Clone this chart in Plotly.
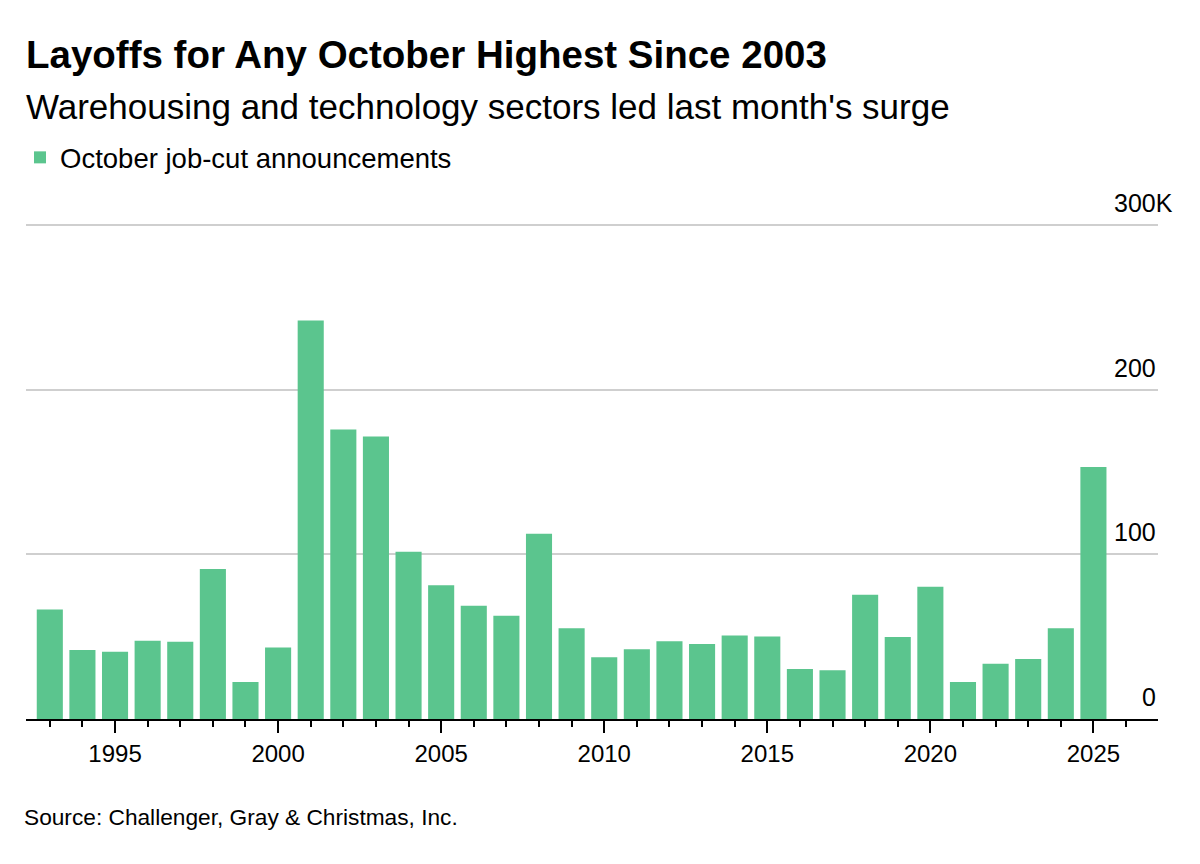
import plotly.graph_objects as go

years = list(range(1993, 2026))
job_cuts_k = [66.5, 42.0, 40.9, 47.6, 47.0, 91.2, 22.5, 43.4, 242.2, 175.9,
              171.7, 101.7, 81.2, 68.8, 62.7, 112.6, 55.2, 37.5, 42.4, 47.2,
              45.5, 50.8, 50.1, 30.4, 29.6, 75.5, 49.9, 80.3, 22.5, 33.6,
              36.5, 55.2, 153.1]
y_ticks = [0, 100, 200, 300]
y_tick_labels = ["0", "100", "200", "300K"]

title = "Layoffs for Any October Highest Since 2003"
subtitle = "Warehousing and technology sectors led last month's surge"
series_name = "October job-cut announcements"
source = "Source: Challenger, Gray & Christmas, Inc."

GREEN = "#5bc58e"
FONT = "Liberation Sans"

fig = go.Figure()
fig.add_trace(go.Bar(x=years, y=job_cuts_k, name=series_name,
                     marker=dict(color=GREEN, line=dict(width=0)),
                     showlegend=True))

# the page body adds an 8px offset; positions below are in screen pixels
OFF = 8
W, H = 1200, 864
plot_left, plot_right = 21, 1158
y_top_val = 302
px_per_unit = 1.643
base_y = 718.6
top_y = base_y - y_top_val * px_per_unit
ml = plot_left - OFF
mr = W - (plot_right - OFF)
mt = top_y - OFF
mb = H - (base_y - OFF)
ph = H - mt - mb
pw = W - ml - mr

def py(abs_y):
    return 1 + (top_y - abs_y) / ph

def px(abs_x):
    return (abs_x - plot_left) / pw

annotations = [
    dict(text="<b>" + title + "</b>", x=px(19), y=py(55), xref="paper", yref="paper",
         xanchor="left", yanchor="middle", showarrow=False,
         font=dict(family=FONT, size=38.5, color="#000000")),
    dict(text=subtitle, x=px(19), y=py(107), xref="paper", yref="paper",
         xanchor="left", yanchor="middle", showarrow=False,
         font=dict(family=FONT, size=35, color="#000000")),
    dict(text=source, x=px(17), y=py(816), xref="paper", yref="paper",
         xanchor="left", yanchor="middle", showarrow=False,
         font=dict(family=FONT, size=22.7, color="#000000")),
]
for v, lab in zip(y_ticks, y_tick_labels):
    annotations.append(dict(text=lab, x=1, y=v, xref="paper", yref="y",
                            xanchor="right", yanchor="bottom", showarrow=False,
                            yshift=6, xshift=17 if lab.endswith("K") else 0,
                            font=dict(family=FONT, size=25, color="#000000")))

fig.update_layout(
    width=W, height=H,
    margin=dict(l=ml, r=mr, t=mt, b=mb, pad=0),
    paper_bgcolor="white", plot_bgcolor="white",
    bargap=0.2,
    font=dict(family=FONT, color="#000000"),
    showlegend=True,
    legend=dict(orientation="h", x=px(15), y=py(158), xanchor="left",
                yanchor="middle", font=dict(family=FONT, size=27.5),
                bgcolor="rgba(0,0,0,0)"),
    annotations=annotations,
    xaxis=dict(range=[1992.27, 2026.98], tickmode="linear", tick0=1995, dtick=5,
               ticks="outside", ticklen=12, tickwidth=2, tickcolor="#000000",
               showline=True, linecolor="#000000", linewidth=2,
               showgrid=False, zeroline=False,
               tickfont=dict(family=FONT, size=24, color="#000000"),
               minor=dict(dtick=1, tick0=1993, ticks="outside", ticklen=6,
                          tickwidth=1.5, tickcolor="#000000", showgrid=False)),
    yaxis=dict(range=[0, y_top_val], tickvals=y_ticks, showticklabels=False,
               showgrid=True, gridcolor="#cfcfcf", gridwidth=1.5,
               zeroline=False, showline=False, fixedrange=True),
)

fig.write_html("out.html")
